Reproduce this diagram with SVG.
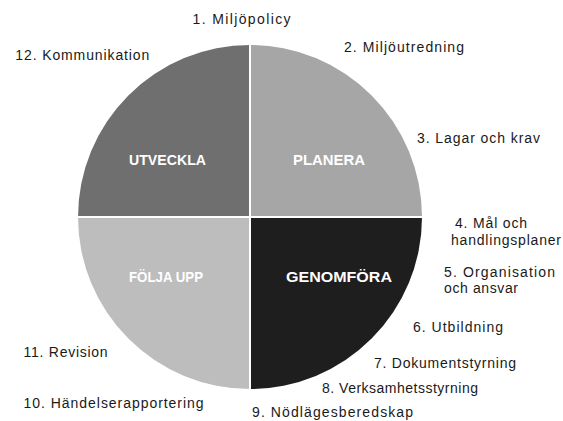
<svg xmlns="http://www.w3.org/2000/svg" width="563" height="421" viewBox="0 0 563 421">
<style>
.lbl{font-family:"Liberation Sans",Arial,sans-serif;font-size:14px;fill:#1a1a1a;}
.q{font-family:"Liberation Sans",Arial,sans-serif;font-size:14px;font-weight:bold;fill:#ffffff;text-anchor:middle;}
.div{stroke:#ffffff;stroke-width:2;fill:none;}
</style>
<rect width="563" height="421" fill="#ffffff"/>
<g id="utveckla">
<path d="M250,217 L78,217 A172,172 0 0 1 250,45 Z" fill="#6f6f6f"/>
<text class="q" x="167.5" y="165" textLength="77" lengthAdjust="spacingAndGlyphs">UTVECKLA</text>
</g>
<g id="planera">
<path d="M250,217 L250,45 A172,172 0 0 1 422,217 Z" fill="#a6a6a6"/>
<text class="q" x="329" y="165" textLength="72" lengthAdjust="spacingAndGlyphs">PLANERA</text>
</g>
<g id="genomfora">
<path d="M250,217 L422,217 A172,172 0 0 1 250,389 Z" fill="#1e1e1e"/>
<text class="q" x="339" y="282" textLength="106" lengthAdjust="spacingAndGlyphs">GENOMFÖRA</text>
</g>
<g id="folja-upp">
<path d="M250,217 L250,389 A172,172 0 0 1 78,217 Z" fill="#bdbdbd"/>
<text class="q" x="166" y="282" textLength="74" lengthAdjust="spacingAndGlyphs">FÖLJA UPP</text>
</g>
<g id="connectors">
<line class="div" x1="250" y1="44" x2="250" y2="390"/>
<line class="div" x1="77" y1="217" x2="423" y2="217"/>
</g>
<g id="labels">
<text class="lbl" x="192.5" y="24" textLength="98">1. Miljöpolicy</text>
<text class="lbl" x="344" y="52" textLength="120">2. Miljöutredning</text>
<text class="lbl" x="417" y="143" textLength="123">3. Lagar och krav</text>
<text class="lbl" x="455" y="228" textLength="72">4. Mål och</text>
<text class="lbl" x="451" y="245" textLength="110">handlingsplaner</text>
<text class="lbl" x="444" y="277" textLength="111">5. Organisation</text>
<text class="lbl" x="444" y="293" textLength="74">och ansvar</text>
<text class="lbl" x="413" y="332" textLength="90">6. Utbildning</text>
<text class="lbl" x="374" y="368" textLength="142">7. Dokumentstyrning</text>
<text class="lbl" x="322" y="393" textLength="156">8. Verksamhetsstyrning</text>
<text class="lbl" x="252" y="417" textLength="161">9. Nödlägesberedskap</text>
<text class="lbl" x="23.6" y="408" textLength="180">10. Händelserapportering</text>
<text class="lbl" x="23.6" y="357" textLength="84">11. Revision</text>
<text class="lbl" x="15.3" y="60" textLength="134">12. Kommunikation</text>
</g>
</svg>
